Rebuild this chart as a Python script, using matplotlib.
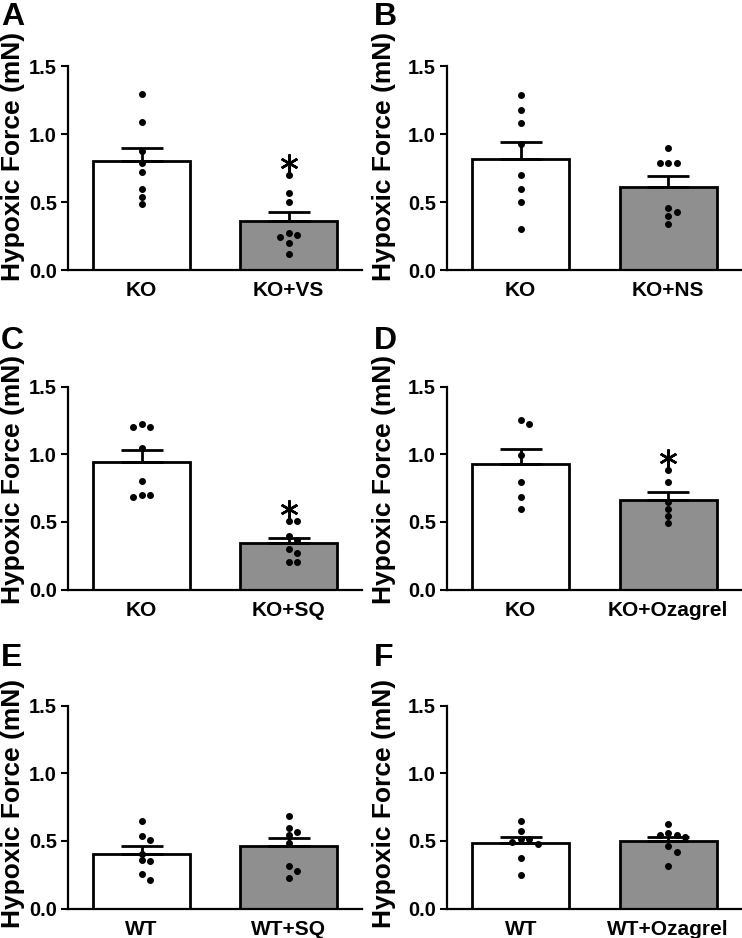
import matplotlib
matplotlib.use("Agg")
import matplotlib.pyplot as plt
import numpy as np

plt.rcParams["font.family"] = ["Liberation Sans", "DejaVu Sans"]
plt.rcParams["font.weight"] = "bold"

# panel data: group labels, bar means, SEM, individual points, significance
letters = ["A", "B", "C", "D", "E", "F"]
groups = [["KO", "KO+VS"], ["KO", "KO+NS"], ["KO", "KO+SQ"],
          ["KO", "KO+Ozagrel"], ["WT", "WT+SQ"], ["WT", "WT+Ozagrel"]]
means = [[0.80, 0.36], [0.82, 0.614], [0.942, 0.344],
         [0.926, 0.663], [0.406, 0.465], [0.483, 0.50]]
sems = [[0.10, 0.07], [0.125, 0.082], [0.088, 0.04],
        [0.111, 0.059], [0.054, 0.055], [0.042, 0.03]]
points = [
    [[1.30, 1.09, 0.88, 0.79, 0.72, 0.60, 0.54, 0.49],
     [0.70, 0.57, 0.50, 0.27, 0.26, 0.245, 0.20, 0.115]],
    [[1.29, 1.18, 1.08, 0.93, 0.70, 0.60, 0.50, 0.30],
     [0.90, 0.79, 0.79, 0.79, 0.46, 0.43, 0.40, 0.34]],
    [[1.224, 1.20, 1.20, 1.045, 0.80, 0.70, 0.70, 0.68],
     [0.504, 0.504, 0.398, 0.369, 0.30, 0.27, 0.204, 0.204]],
    [[1.256, 1.222, 0.995, 0.793, 0.685, 0.594],
     [0.882, 0.793, 0.643, 0.594, 0.544, 0.495]],
    [[0.645, 0.537, 0.507, 0.406, 0.357, 0.352, 0.254, 0.207],
     [0.685, 0.594, 0.567, 0.54, 0.485, 0.315, 0.276, 0.224]],
    [[0.643, 0.569, 0.515, 0.49, 0.473, 0.374, 0.244, 0.51],
     [0.626, 0.557, 0.54, 0.54, 0.525, 0.463, 0.419, 0.315]],
]
significant = [True, False, True, True, False, False]

bar_colors = ["white", "#8f8f8f"]
W, H = 742, 938


def swarm(vals, px_x=146.0, px_y=135.3, step=8.3, mind=6.5):
    # simple beeswarm: place each point at the first free horizontal slot
    placed = []
    offs = np.zeros(len(vals))
    order = np.argsort(vals)[::-1]
    for i in order:
        for k in [0, 1, -1, 2, -2, 3, -3]:
            dx = k * step
            ok = all(np.hypot(dx - px, (vals[i] - py) * px_y) >= mind
                     for px, py in placed)
            if ok:
                placed.append((dx, vals[i]))
                offs[i] = dx / px_x
                break
    return offs


fig = plt.figure(figsize=(W / 100, H / 100), dpi=100)
cols = [(68, 362), (447, 742)]
rows = [(66.5, 270), (386.5, 589.5), (705.5, 908.5)]
letter_x = [1, 374]
letter_top = [2, 326, 643]
label_x = [-0.146, -0.173]
label_y = [0.557, 0.54, 0.52]

for n in range(6):
    r, c = divmod(n, 2)
    x0, x1 = cols[c]
    t, b = rows[r]
    ax = fig.add_axes([x0 / W, 1 - b / H, (x1 - x0) / W, (b - t) / H])
    xs = np.arange(2)
    ax.bar(xs, means[n], width=0.66, color=bar_colors, edgecolor="black",
           linewidth=2, zorder=2)
    for j in range(2):
        ax.errorbar(xs[j], means[n][j], yerr=[[0], [sems[n][j]]], fmt="none",
                    ecolor="black", elinewidth=2, capsize=15, capthick=2,
                    zorder=3)
        vals = np.array(points[n][j])
        ax.plot(xs[j] + swarm(vals), vals, "o", color="black",
                markersize=4, zorder=4)
    if significant[n]:
        ax.plot(1, max(points[n][1]) + 0.09, marker=(6, 2, 0), color="black",
                markersize=13, markeredgewidth=1.8, zorder=5)
    ax.set_xlim(-0.5, 1.5)
    ax.set_ylim(0, 1.5)
    ax.set_yticks([0, 0.5, 1.0, 1.5])
    ax.set_yticklabels(["0.0", "0.5", "1.0", "1.5"])
    ax.set_xticks(xs)
    ax.set_xticklabels(groups[n])
    ax.tick_params(axis="y", length=5, width=1.5, labelsize=14.5, pad=3)
    ax.tick_params(axis="x", length=0, labelsize=15, pad=8)
    for s in ["top", "right"]:
        ax.spines[s].set_visible(False)
    for s in ["left", "bottom"]:
        ax.spines[s].set_linewidth(1.6)
    ax.set_ylabel("Hypoxic Force (mN)", fontsize=19, fontweight="bold")
    ax.yaxis.set_label_coords(label_x[c], label_y[r])
    fig.text(letter_x[c] / W, 1 - letter_top[r] / H, letters[n],
             fontsize=23, fontweight="bold", va="top", ha="left")

fig.savefig("out.png", dpi=100)
